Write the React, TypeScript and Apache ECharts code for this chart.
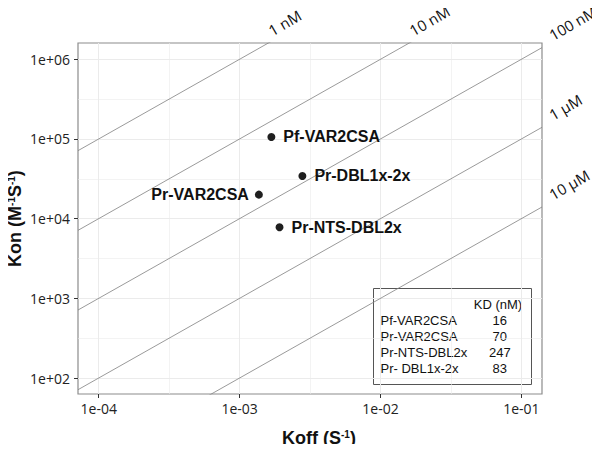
import React, { useEffect, useRef } from 'react';
import * as echarts from 'echarts';

// Axis ranges (raw values)
const koffRange = [7.13e-5, 0.14];
const konRange = [63, 1.6e6];

// Tick positions (log10 exponents) and labels
const xMajorExp = [-4, -3, -2, -1];
const xMinorExp = [-3.5, -2.5, -1.5];
const xTickLabels = ['1e-04', '1e-03', '1e-02', '1e-01'];
const yMajorExp = [2, 3, 4, 5, 6];
const yMinorExp = [2.5, 3.5, 4.5, 5.5];
const yTickLabels = ['1e+02', '1e+03', '1e+04', '1e+05', '1e+06'];

// Points
const pointNames = ['Pf-VAR2CSA', 'Pr-VAR2CSA', 'Pr-DBL1x-2x', 'Pr-NTS-DBL2x'];
const pointKoff = [1.68e-3, 1.37e-3, 2.79e-3, 1.92e-3];
const pointKon = [1.06e5, 2.0e4, 3.43e4, 7.8e3];
const pointLabelSide = ['right', 'left', 'right', 'right'];

// Iso-affinity lines
const isoKD = [1e-9, 1e-8, 1e-7, 1e-6, 1e-5];
const isoLabels = ['1 nM', '10 nM', '100 nM', '1 μM', '10 μM'];

// Table
const tableHeader = 'KD (nM)';
const tableNames = ['Pf-VAR2CSA', 'Pr-VAR2CSA', 'Pr-NTS-DBL2x', 'Pr- DBL1x-2x'];
const tableKD = ['16', '70', '247', '83'];

const L = Math.log10;

export default function App() {
  const ref = useRef<HTMLDivElement>(null);
  useEffect(() => {
    if (!ref.current) return;
    const chart = echarts.init(ref.current, null, { renderer: 'svg' });
    const xMin = L(koffRange[0]);
    const xMax = L(koffRange[1]);
    const yMin = L(konRange[0]);
    const yMax = L(konRange[1]);

    const fmt = (vals: number[], labels: string[]) => (v: number) => {
      const i = vals.findIndex((t) => Math.abs(t - v) < 1e-6);
      return i >= 0 ? labels[i] : '';
    };

    const isoSeries = isoKD.map((kd) => ({
      type: 'line',
      data: [
        [xMin, xMin - L(kd)],
        [xMax, xMax - L(kd)],
      ],
      symbol: 'none',
      silent: true,
      clip: true,
      z: 2,
      lineStyle: { color: '#808080', width: 0.8 },
    }));

    const anchors = isoKD.map((kd, i) => {
      const yAtRight = xMax - L(kd);
      if (yAtRight > yMax) {
        return { name: isoLabels[i], value: [yMax + L(kd), yMax], label: { position: [5, -5] } };
      }
      return { name: isoLabels[i], value: [xMax, yAtRight], label: { position: [12, -5] } };
    });

    const gridLines = [
      ...xMajorExp.map((v) => ({ xAxis: v, lineStyle: { width: 1 } })),
      ...xMinorExp.map((v) => ({ xAxis: v, lineStyle: { width: 0.6 } })),
      ...yMajorExp.map((v) => ({ yAxis: v, lineStyle: { width: 1 } })),
      ...yMinorExp.map((v) => ({ yAxis: v, lineStyle: { width: 0.6 } })),
    ];

    const tickFont = { color: '#222222', fontSize: 14, fontFamily: 'Open Sans' };
    const nameStyle = (pad: number[]) => ({
      fontFamily: 'Liberation Sans',
      fontWeight: 'bold',
      fontSize: 18,
      color: '#111111',
      padding: pad,
      rich: {
        sup: {
          fontFamily: 'Liberation Sans',
          fontWeight: 'bold',
          fontSize: 10,
          color: '#111111',
          verticalAlign: 'top',
        },
      },
    });

    chart.setOption({
      animation: false,
      grid: {
        left: 78,
        top: 43,
        width: 464,
        height: 351,
        show: true,
        borderColor: '#8c8c8c',
        borderWidth: 1.2,
        outerBoundsMode: 'none',
      },
      xAxis: {
        type: 'value',
        min: xMin,
        max: xMax,
        axisLine: { show: false },
        axisTick: { show: true, customValues: xMajorExp, length: 4, lineStyle: { color: '#333333' } },
        axisLabel: { customValues: xMajorExp, formatter: fmt(xMajorExp, xTickLabels), margin: 7, ...tickFont },
        splitLine: { show: false },
        name: 'Koff (S{sup|-1})',
        nameLocation: 'middle',
        nameGap: 35,
        nameMoveOverlap: false,
        nameTextStyle: nameStyle([0, 0, 0, 18]),
      },
      yAxis: {
        type: 'value',
        min: yMin,
        max: yMax,
        axisLine: { show: false },
        axisTick: { show: true, customValues: yMajorExp, length: 4, lineStyle: { color: '#333333' } },
        axisLabel: { customValues: yMajorExp, formatter: fmt(yMajorExp, yTickLabels), margin: 8, ...tickFont },
        splitLine: { show: false },
        name: 'Kon (M{sup|-1}S{sup|-1})',
        nameLocation: 'middle',
        nameGap: 54,
        nameMoveOverlap: false,
        nameTextStyle: nameStyle([0, 0, 0, 0]),
      },
      series: [
        {
          type: 'line',
          data: [],
          silent: true,
          markLine: {
            silent: true,
            symbol: ['none', 'none'],
            label: { show: false },
            z: 1,
            animation: false,
            lineStyle: { color: '#ebebeb', type: 'solid' },
            data: gridLines,
          },
        },
        ...isoSeries,
        {
          type: 'scatter',
          data: anchors,
          symbolSize: 0.1,
          clip: false,
          silent: true,
          itemStyle: { color: 'transparent' },
          label: {
            show: true,
            formatter: '{b}',
            align: 'left',
            verticalAlign: 'bottom',
            rotate: 30,
            fontSize: 15,
            fontFamily: 'Open Sans',
            color: '#111111',
            opacity: 1,
          },
          z: 3,
        },
        {
          type: 'scatter',
          data: pointNames.map((n, i) => ({
            name: n,
            value: [L(pointKoff[i]), L(pointKon[i])],
            label: { position: pointLabelSide[i], distance: pointLabelSide[i] === 'left' ? 6 : 8 },
          })),
          symbolSize: 8,
          itemStyle: { color: '#1f1f1f', opacity: 1 },
          label: {
            show: true,
            formatter: '{b}',
            fontFamily: 'Liberation Sans',
            fontWeight: 'bold',
            fontSize: 16,
            color: '#111111',
            opacity: 1,
          },
          z: 4,
        },
      ],
      graphic: [
        {
          type: 'group',
          left: 373,
          top: 288,
          z: 10,
          children: [
            {
              type: 'rect',
              shape: { x: 0, y: 0, width: 158, height: 96 },
              style: { fill: '#ffffff', stroke: '#555555', lineWidth: 1 },
            },
            {
              type: 'text',
              style: {
                text: tableHeader,
                x: 124.5,
                y: 15.5,
                align: 'center',
                verticalAlign: 'middle',
                textAlign: 'center',
                textVerticalAlign: 'middle',
                font: '13px "Liberation Sans"',
                fill: '#111111',
              },
            },
            ...tableNames.flatMap((n, i) => [
              {
                type: 'text',
                style: {
                  text: n,
                  x: 7,
                  y: 31.5 + i * 16,
                  align: 'left',
                  verticalAlign: 'middle',
                  textAlign: 'left',
                  textVerticalAlign: 'middle',
                  font: '13px "Liberation Sans"',
                  fill: '#111111',
                },
              },
              {
                type: 'text',
                style: {
                  text: tableKD[i],
                  x: 126.3,
                  y: 31.5 + i * 16,
                  align: 'center',
                  verticalAlign: 'middle',
                  textAlign: 'center',
                  textVerticalAlign: 'middle',
                  font: '13px "Liberation Sans"',
                  fill: '#111111',
                },
              },
            ]),
          ],
        },
      ],
    });
    return () => chart.dispose();
  }, []);
  return <div ref={ref} style={{ width: 600, height: 452, margin: -8 }} />;
}
